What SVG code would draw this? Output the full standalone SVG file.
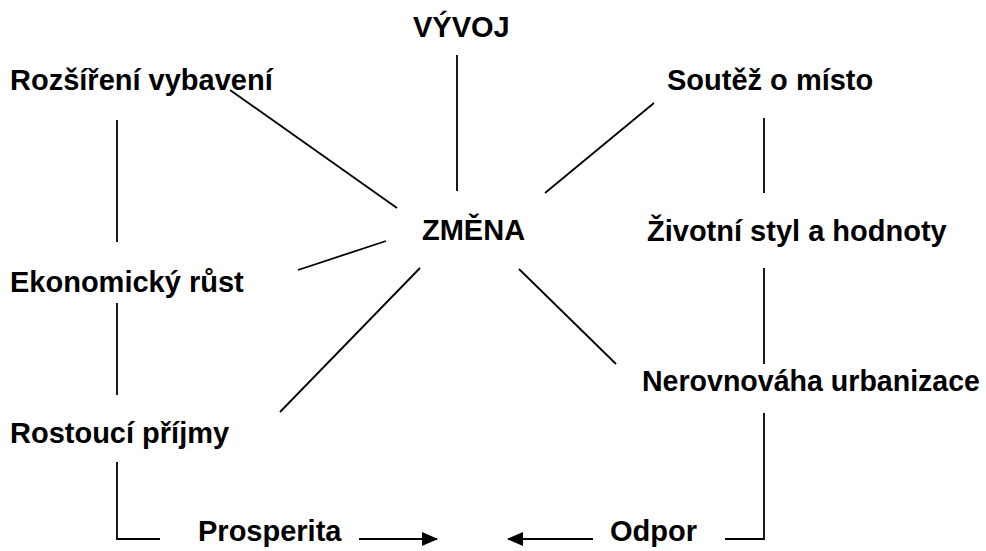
<svg xmlns="http://www.w3.org/2000/svg" width="986" height="551" viewBox="0 0 986 551">
<style>
text{font-family:"Liberation Sans",Arial,sans-serif;font-weight:bold;font-size:29px;fill:#000}
.c line,.c polyline{stroke:#000;stroke-width:1.8;fill:none}
</style>
<defs>
<marker id="ah" viewBox="0 0 16 14" refX="15" refY="7" markerUnits="userSpaceOnUse" markerWidth="16" markerHeight="14" orient="auto">
<path d="M0,0 L16,7 L0,14 Z" fill="#000"/>
</marker>
</defs>
<rect width="986" height="551" fill="#fff"/>
<g class="c" id="connectors">
<line x1="457" y1="55" x2="457" y2="191"/>
<line x1="230" y1="90" x2="397" y2="208"/>
<line x1="654" y1="103" x2="545" y2="193"/>
<line x1="764" y1="118" x2="764" y2="193"/>
<line x1="117" y1="120" x2="117" y2="242"/>
<line x1="298" y1="270" x2="386" y2="241"/>
<line x1="117" y1="303" x2="117" y2="395"/>
<line x1="280" y1="412" x2="420" y2="268"/>
<line x1="519" y1="269" x2="616" y2="364"/>
<line x1="764" y1="268" x2="764" y2="364"/>
<polyline points="117,462 117,539 160,539"/>
<line x1="359" y1="539" x2="437" y2="539" marker-end="url(#ah)"/>
<line x1="593" y1="539" x2="508" y2="539" marker-end="url(#ah)"/>
<polyline points="725,539 764,539 764,413"/>
</g>
<g id="vyvoj"><text x="413" y="37">VÝVOJ</text></g>
<g id="rozsireni"><text x="10" y="90">Rozšíření vybavení</text></g>
<g id="soutez"><text x="667" y="90">Soutěž o místo</text></g>
<g id="zmena"><text x="422" y="240">ZMĚNA</text></g>
<g id="zivotni"><text x="647" y="241">Životní styl a hodnoty</text></g>
<g id="ekonomicky"><text x="10" y="292">Ekonomický růst</text></g>
<g id="nerovnovaha"><text x="642" y="391" textLength="338" lengthAdjust="spacingAndGlyphs">Nerovnováha urbanizace</text></g>
<g id="rostouci"><text x="10" y="443">Rostoucí příjmy</text></g>
<g id="prosperita"><text x="198" y="541">Prosperita</text></g>
<g id="odpor"><text x="610" y="541">Odpor</text></g>
</svg>
